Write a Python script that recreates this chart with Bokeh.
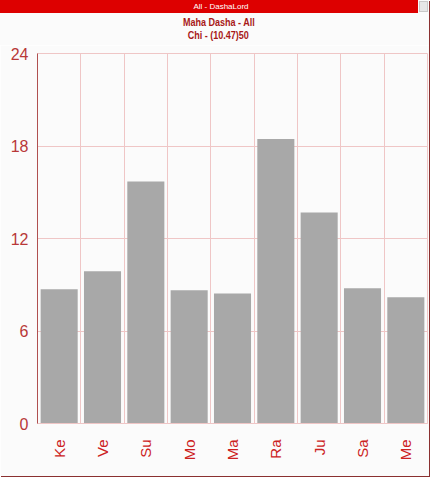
from bokeh.plotting import figure
from bokeh.models import Range1d, FixedTicker, Div, Grid
from bokeh.layouts import column
from bokeh.embed import file_html
from bokeh.resources import INLINE

categories = ["Ke", "Ve", "Su", "Mo", "Ma", "Ra", "Ju", "Sa", "Me"]
values = [8.71, 9.88, 15.70, 8.64, 8.43, 18.45, 13.69, 8.77, 8.19]
y_ticks = [0, 6, 12, 18, 24]
header = "All - DashaLord"
title1 = "Maha Dasha - All"
title2 = "Chi - (10.47)50"

FONT = "Liberation Sans, Arial, sans-serif"
BG = "#fbfbfb"
GRID = "#efc6c6"
W = 429

xs = list(range(1, len(categories) + 1))

p = figure(width=W, height=431, output_backend="svg", toolbar_location=None,
           x_range=Range1d(0.5, len(categories) + 0.5), y_range=Range1d(0, 24),
           min_border_left=37, min_border_right=2, min_border_top=8, min_border_bottom=53,
           background_fill_color=BG, border_fill_color=BG)

p.vbar(x=xs, top=values, width=0.855, fill_color="#a8a8a8", line_color=None)

p.outline_line_color = GRID
p.xgrid.grid_line_color = None
p.add_layout(Grid(dimension=0, ticker=FixedTicker(ticks=[x + 0.5 for x in xs[:-1]]),
                  grid_line_color=GRID))
p.ygrid.ticker = FixedTicker(ticks=y_ticks)
p.ygrid.grid_line_color = GRID

p.yaxis.ticker = FixedTicker(ticks=y_ticks)
p.yaxis.axis_line_color = "#b05050"
p.yaxis.major_tick_line_color = None
p.yaxis.major_tick_out = 0
p.yaxis.minor_tick_line_color = None
p.yaxis.major_label_text_font = FONT
p.yaxis.major_label_text_font_size = "16px"
p.yaxis.major_label_text_color = "#b83838"
p.yaxis.major_label_standoff = 9

p.xaxis.ticker = FixedTicker(ticks=xs)
p.xaxis.major_label_overrides = {x: c for x, c in zip(xs, categories)}
p.xaxis.axis_line_color = GRID
p.xaxis.major_tick_line_color = None
p.xaxis.major_tick_out = 0
p.xaxis.minor_tick_line_color = None
p.xaxis.major_label_orientation = 1.5708
p.xaxis.major_label_text_font = FONT
p.xaxis.major_label_text_font_size = "15px"
p.xaxis.major_label_text_color = "#cc2222"
p.xaxis.major_label_standoff = 16

ff = "font-family:'Liberation Sans',Arial,sans-serif;"
title_style = ("text-align:center;color:#a81818;" + ff +
               "font-weight:bold;font-size:11px;line-height:12.5px;height:12.5px;"
               "padding-left:8px;box-sizing:border-box;")
span_style = "display:inline-block;transform:scaleX(0.82);"
html = (
    '<div style="display:flex;height:13px;">'
    '<div style="width:418px;height:13px;background:#dd0000;color:#ffffff;' + ff +
    'font-size:8px;line-height:13px;text-align:center;padding-left:24px;box-sizing:border-box;">'
    f'{header}</div>'
    '<div style="width:9px;height:11px;margin:1px 1px 0 1px;background:#e6e6e6;'
    'border:1px solid #c8c8c8;"></div></div>'
    '<div style="height:3px;"></div>'
    f'<div style="width:{W}px;{title_style}"><span style="{span_style}">{title1}</span></div>'
    f'<div style="width:{W}px;{title_style}"><span style="{span_style}">{title2}</span></div>'
)
head = Div(text=html, width=W, height=45, margin=0, styles={"background-color": BG})

layout = column(head, p, spacing=0, styles={"box-shadow": "1px 1px 0 #8a3030"})
open("out.html", "w").write(file_html(layout, INLINE))
